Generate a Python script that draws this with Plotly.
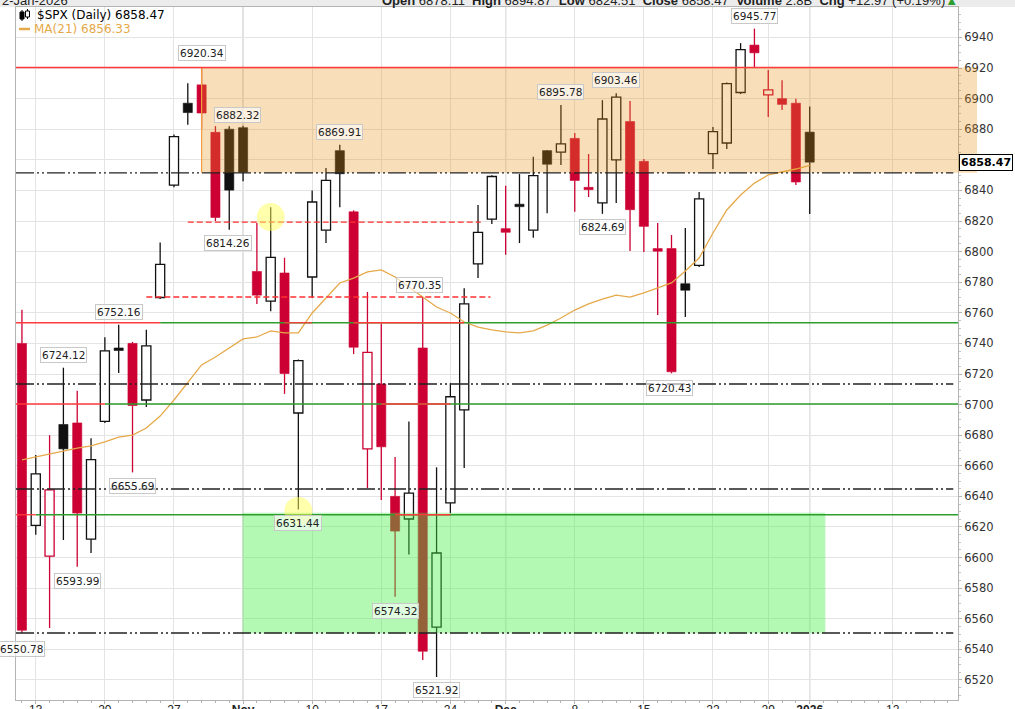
import plotly.graph_objects as go

# ---------------- data ----------------
dates = ["2025-10-10", "2025-10-13", "2025-10-14", "2025-10-15", "2025-10-16", "2025-10-17",
         "2025-10-20", "2025-10-21", "2025-10-22", "2025-10-23", "2025-10-24",
         "2025-10-27", "2025-10-28", "2025-10-29", "2025-10-30", "2025-10-31",
         "2025-11-03", "2025-11-04", "2025-11-05", "2025-11-06", "2025-11-07",
         "2025-11-10", "2025-11-11", "2025-11-12", "2025-11-13", "2025-11-14",
         "2025-11-17", "2025-11-18", "2025-11-19", "2025-11-20", "2025-11-21",
         "2025-11-24", "2025-11-25", "2025-11-26", "2025-11-28",
         "2025-12-01", "2025-12-02", "2025-12-03", "2025-12-04", "2025-12-05",
         "2025-12-08", "2025-12-09", "2025-12-10", "2025-12-11", "2025-12-12",
         "2025-12-15", "2025-12-16", "2025-12-17", "2025-12-18", "2025-12-19",
         "2025-12-22", "2025-12-23", "2025-12-24", "2025-12-26",
         "2025-12-29", "2025-12-30", "2025-12-31", "2026-01-02"]

opens = [6740, 6621, 6601, 6687, 6688, 6612,
         6689, 6737, 6740, 6703, 6770,
         6843.5, 6897, 6909, 6878, 6880,
         6881, 6787, 6767.7, 6786, 6694.5,
         6783.4, 6814, 6866, 6826, 6671,
         6713.5, 6640, 6625.2, 6737, 6554.6,
         6635.7, 6696.5, 6792, 6821.3,
         6815, 6831, 6814, 6866, 6865,
         6874, 6842, 6831.8, 6860, 6885,
         6859, 6802, 6802, 6779, 6791,
         6864, 6871, 6904, 6935,
         6902.5, 6900, 6897, 6878.11]

highs = [6762, 6667, 6680, 6724.12, 6709, 6678,
         6744, 6752.16, 6741, 6749, 6806,
         6876.5, 6910, 6920.34, 6882, 6882,
         6882.32, 6818.7, 6829, 6796, 6729.5,
         6840, 6854.6, 6869.91, 6827, 6773.6,
         6753, 6665.7, 6689, 6770.35, 6659,
         6714, 6776, 6830.5, 6850,
         6843, 6850.7, 6862, 6866.5, 6895.78,
         6877.5, 6863.8, 6899, 6903.46, 6898.4,
         6860.5, 6818.7, 6810.8, 6815.4, 6839,
         6881.4, 6910.5, 6936.3, 6945.77,
         6918.7, 6912, 6900, 6894.87]

lows = [6550.78, 6615, 6554, 6611.5, 6593.99, 6603,
        6688, 6720.6, 6655.69, 6698.4, 6769,
        6842, 6883, 6880, 6820, 6814.26,
        6846, 6765.8, 6761, 6707, 6631.44,
        6769.7, 6805.6, 6829, 6733, 6645.5,
        6637.6, 6574.32, 6602, 6533, 6521.92,
        6629, 6658.6, 6782.7, 6818,
        6798, 6805.6, 6809, 6825, 6856.6,
        6826, 6835.7, 6824.69, 6831.8, 6800.4,
        6799.7, 6758.6, 6720.43, 6757.3, 6790,
        6854, 6867, 6903, 6920.6,
        6888, 6892.5, 6843.5, 6824.51]

closes = [6552.51, 6654.72, 6644.31, 6671.06, 6629.07, 6664.01,
          6735.13, 6735.35, 6699.40, 6738.44, 6791.69,
          6875.16, 6890.89, 6890.59, 6822.34, 6840.20,
          6851.97, 6771.55, 6796.29, 6720.32, 6728.80,
          6832.43, 6846.61, 6850.92, 6737.49, 6734.11,
          6672.41, 6617.32, 6642.16, 6538.76, 6602.99,
          6705.12, 6765.88, 6812.61, 6849.09,
          6812.63, 6829.37, 6849.72, 6857.12, 6870.40,
          6846.51, 6840.51, 6886.68, 6901.00, 6827.41,
          6816.51, 6800.26, 6721.43, 6774.76, 6834.50,
          6878.49, 6909.79, 6932.05, 6929.94,
          6905.74, 6896.24, 6845.50, 6858.47]

prior_close = 6735.11  # close before the first bar

ma21 = [6663.8, 6665.8, 6667.7, 6669.7, 6671.6, 6673.0,
        6675.6, 6678.8, 6680.1, 6684.7, 6692.5,
        6703.0, 6714.1, 6725.9, 6731.1, 6737.0,
        6742.9, 6744.2, 6748.2, 6746.9, 6746.9,
        6759.9, 6769.7, 6779.5, 6782.7, 6786.7,
        6788.0, 6783.4, 6776.9, 6770.3, 6763.8,
        6759.9, 6754.0, 6750.7, 6748.8,
        6747.5, 6746.9, 6748.2, 6752.0, 6756.6,
        6761.8, 6765.8, 6769.0, 6771.6, 6770.3,
        6773.0, 6776.2, 6779.5, 6787.3, 6795.8,
        6812.2, 6827.2, 6837.0, 6844.8,
        6850.1, 6852.0, 6854.0, 6856.33]

volume_text = "2.8B"
header_date = "2-Jan-2026"

x_tick_idx = [1, 6, 11, 16, 21, 26, 31, 35, 40, 45, 50, 54, 57, 63]
x_tick_text = ["13", "20", "27", "Nov", "10", "17", "24", "Dec", "8", "15", "22", "29", "2026", "12"]
month_labels = ["Nov", "Dec", "2026"]

# annotated highs/lows: (bar index, "h"/"l", xshift px, yshift px)
value_labels = [(13, "h", 0, 15), (16, "h", -6, 11), (23, "h", 0, 13), (15, "l", -1, -13),
                (7, "h", 0, 13), (3, "h", 0, 13), (8, "l", 0, -14), (4, "l", 0, -14),
                (20, "l", 0, -14), (27, "l", 0, -14), (0, "l", 0, -16), (30, "l", 0, -13),
                (29, "h", -3, 12), (39, "h", 0, 13), (43, "h", 0, 13), (42, "l", 0, -13),
                (47, "l", -2, -15), (53, "h", 0, 13)]

# annotation levels
zone_orange = (13, 6851.5, 6920.34)     # start bar, low, high
zone_green = (16, 58.1, 6550.78, 6629)  # start bar, end bar, low, high
dashdot_levels = [6851.5, 6713.5, 6644.8, 6550.7]
red_dash_lines = [(12, 33.2, 6819.3), (9, 33.9, 6770.3)]
full_red_level = 6920.34
# (level, list of red segments (x0,x1) , green start bar)
sr_lines = [(6753.5, [(-1, 10), (19, 21), (24, 32)], 10),
            (6700.4, [(-1, 6), (26, 31)], 6),
            (6628.0, [(-1, 1), (27, 31)], 1)]
highlight_circles = [(18, 6822.6), (20, 6630.5)]

X_RANGE = [-0.43, 67.73]
Y_RANGE = [6506.9, 6959.9]

RED = "#cc0033"
BLACK = "#111111"
MA_COL = "#e6a94a"

# ---------------- figure ----------------
fig = go.Figure()

prev = [prior_close] + closes[:-1]
groups = {}
for i, (o, h, l, c, p) in enumerate(zip(opens, highs, lows, closes, prev)):
    hollow = c > o
    red = c < p
    groups.setdefault((hollow, red), []).append(i)

for (hollow, red), idxs in groups.items():
    col = RED if red else BLACK
    wx, wy = [], []
    for i in idxs:
        top = max(opens[i], closes[i])
        bot = min(opens[i], closes[i])
        wx += [i, i, None, i, i, None]
        wy += [lows[i], bot, None, top, highs[i], None]
    fig.add_trace(go.Scatter(x=wx, y=wy, mode="lines", line=dict(color=col, width=1.3),
                             hoverinfo="skip", showlegend=False))
    fig.add_trace(go.Bar(
        x=idxs,
        base=[min(opens[i], closes[i]) for i in idxs],
        y=[abs(closes[i] - opens[i]) for i in idxs],
        width=0.66,
        marker=dict(color="white" if hollow else col,
                    line=dict(color=col, width=1.3 if hollow else 0.6)),
        hoverinfo="skip", showlegend=False))

fig.add_trace(go.Scatter(x=list(range(len(ma21))), y=ma21, mode="lines",
                         line=dict(color=MA_COL, width=1.3), hoverinfo="skip",
                         showlegend=False))

shapes = []
# legend white box
shapes.append(dict(type="rect", xref="paper", yref="paper", xsizemode="pixel", ysizemode="pixel",
                   xanchor=0, yanchor=1, x0=0, x1=156, y0=-32, y1=0,
                   fillcolor="white", line=dict(width=0), layer="between"))
# month gridlines (darker)
for t, lab in zip(x_tick_idx, x_tick_text):
    if lab in month_labels:
        shapes.append(dict(type="line", xref="x", yref="paper", x0=t, x1=t, y0=0, y1=1,
                           line=dict(color="#c4c4c4", width=1.2), layer="between"))

# zones
s, zl, zh = zone_orange
shapes.append(dict(type="rect", xref="x", yref="y", x0=s, x1=X_RANGE[1] + 1, y0=zl, y1=zh,
                   fillcolor="rgb(232,145,22)", opacity=0.3, line=dict(width=0), layer="above"))
shapes.append(dict(type="line", xref="x", yref="y", x0=s, x1=X_RANGE[1] + 1, y0=zh, y1=zh,
                   line=dict(color="#f0a040", width=1.2), layer="above"))
shapes.append(dict(type="line", xref="x", yref="y", x0=s, x1=s, y0=zl, y1=zh,
                   line=dict(color="#f0a040", width=1.2), layer="above"))
py0 = (zl - Y_RANGE[0]) / (Y_RANGE[1] - Y_RANGE[0])
py1 = (zh - Y_RANGE[0]) / (Y_RANGE[1] - Y_RANGE[0])
shapes.append(dict(type="rect", xref="paper", yref="paper", x0=1, x1=1.0202, y0=py0, y1=py1,
                   fillcolor="rgb(232,145,22)", opacity=0.3, line=dict(width=0), layer="above"))

g0, g1, gl, gh = zone_green
shapes.append(dict(type="rect", xref="x", yref="y", x0=g0, x1=g1, y0=gl, y1=gh,
                   fillcolor="rgb(67,242,67)", opacity=0.4,
                   line=dict(color="rgb(90,225,90)", width=1), layer="above"))

# dash-dot levels
for lv in dashdot_levels:
    shapes.append(dict(type="line", xref="paper", yref="y", x0=0, x1=0.995, y0=lv, y1=lv,
                       line=dict(color="#222222", width=1.4, dash="18px,3px,2px,3px,2px,3px"),
                       layer="above"))
# red dashed
for x0, x1, lv in red_dash_lines:
    shapes.append(dict(type="line", xref="x", yref="y", x0=x0, x1=x1, y0=lv, y1=lv,
                       line=dict(color="#ff3030", width=1.4, dash="6px,3px"), layer="above"))
# full red line
shapes.append(dict(type="line", xref="paper", yref="y", x0=0, x1=1, y0=full_red_level,
                   y1=full_red_level, line=dict(color="#ff3b3b", width=1.4), layer="above"))
# support / resistance lines
for lv, reds, gstart in sr_lines:
    shapes.append(dict(type="line", xref="x", yref="y", x0=gstart, x1=X_RANGE[1] + 1, y0=lv, y1=lv,
                       line=dict(color="#2e9e2e", width=1.3), layer="above"))
    for a, b in reds:
        shapes.append(dict(type="line", xref="x", yref="y", x0=a, x1=b, y0=lv, y1=lv,
                           line=dict(color="#ff3b3b", width=1.3), layer="above"))
# yellow highlight circles
for cx, cy in highlight_circles:
    shapes.append(dict(type="circle", xref="x", yref="y", xsizemode="pixel", ysizemode="pixel",
                       xanchor=cx, yanchor=cy, x0=-14, x1=14, y0=-14, y1=14,
                       fillcolor="rgba(255,255,90,0.5)", line=dict(width=0), layer="above"))

# header band
shapes.append(dict(type="rect", xref="paper", yref="paper", xsizemode="pixel", ysizemode="pixel",
                   xanchor=0, yanchor=1, x0=-16, x1=999, y0=0, y1=8,
                   fillcolor="#ececec", line=dict(width=0), layer="below"))

# legend icon + MA dash
shapes += [
    dict(type="line", xref="paper", yref="paper", xsizemode="pixel", ysizemode="pixel",
         xanchor=0, yanchor=1, x0=6, x1=6, y0=-3, y1=-14, line=dict(color="black", width=1)),
    dict(type="rect", xref="paper", yref="paper", xsizemode="pixel", ysizemode="pixel",
         xanchor=0, yanchor=1, x0=4, x1=8, y0=-5, y1=-12, fillcolor="black",
         line=dict(color="black", width=1)),
    dict(type="line", xref="paper", yref="paper", xsizemode="pixel", ysizemode="pixel",
         xanchor=0, yanchor=1, x0=11.5, x1=11.5, y0=-2, y1=-12, line=dict(color="black", width=1)),
    dict(type="rect", xref="paper", yref="paper", xsizemode="pixel", ysizemode="pixel",
         xanchor=0, yanchor=1, x0=9.5, x1=13.5, y0=-4, y1=-10, fillcolor="white",
         line=dict(color="black", width=1)),
    dict(type="line", xref="paper", yref="paper", xsizemode="pixel", ysizemode="pixel",
         xanchor=0, yanchor=1, x0=3, x1=14, y0=-22, y1=-22, line=dict(color=MA_COL, width=2.5)),
]

annotations = []
for idx, kind, xs, ys in value_labels:
    v = highs[idx] if kind == "h" else lows[idx]
    annotations.append(dict(x=idx, y=v, xref="x", yref="y", text=f"{v:.2f}", showarrow=False,
                            xshift=xs, yshift=ys,
                            font=dict(family="DejaVu Sans", size=10.5, color="#222222"),
                            bgcolor="rgba(255,255,255,0.6)", bordercolor="#c8c8c8",
                            borderwidth=1, borderpad=1))

annotations.append(dict(x=0, y=1, xref="paper", yref="paper", xanchor="left", yanchor="middle",
                        xshift=19, yshift=-8, showarrow=False,
                        text=f"$SPX (Daily) {closes[-1]:.2f}",
                        font=dict(family="DejaVu Sans", size=12, color="black")))
annotations.append(dict(x=0, y=1, xref="paper", yref="paper", xanchor="left", yanchor="middle",
                        xshift=16, yshift=-22, showarrow=False,
                        text=f"MA(21) {ma21[-1]:.2f}",
                        font=dict(family="DejaVu Sans", size=12, color=MA_COL)))
chg = closes[-1] - closes[-2]
pct = chg / closes[-2] * 100
annotations.append(dict(x=0, y=1, xref="paper", yref="paper", xanchor="left", yanchor="middle",
                        xshift=-16, yshift=7, showarrow=False, text=header_date,
                        font=dict(family="Liberation Sans", size=13, color="#222222")))
annotations.append(dict(x=1, y=1, xref="paper", yref="paper", xanchor="right", yanchor="middle",
                        xshift=2, yshift=7, showarrow=False,
                        text=(f"<b>Open</b> {opens[-1]:.2f}  <b>High</b> {highs[-1]:.2f}  "
                              f"<b>Low</b> {lows[-1]:.2f}  <b>Close</b> {closes[-1]:.2f}  "
                              f"<b>Volume</b> {volume_text}  <b>Chg</b> +{chg:.2f} (+{pct:.2f}%)"
                              f"<span style='color:#2e9e2e'>▲</span>"),
                        font=dict(family="Liberation Sans", size=13, color="#222222")))
annotations.append(dict(x=1, y=closes[-1], xref="paper", yref="y", xanchor="left",
                        yanchor="middle", xshift=1, showarrow=False,
                        text=f"<b>{closes[-1]:.2f}</b>",
                        font=dict(family="DejaVu Sans", size=11, color="black"),
                        bgcolor="white", bordercolor="black", borderwidth=1, borderpad=1))

tick_text_fmt = [f"<b>{t}</b>" if t in month_labels else t for t in x_tick_text]

fig.update_layout(
    width=1015, height=709,
    margin=dict(l=16, r=57, t=7, b=9, autoexpand=False),
    paper_bgcolor="white", plot_bgcolor="white",
    barmode="overlay", showlegend=False,
    shapes=shapes, annotations=annotations,
    xaxis=dict(range=X_RANGE, tickmode="array", tickvals=x_tick_idx, ticktext=tick_text_fmt,
               automargin=False, ticklabelstandoff=-4,
               showgrid=True, gridcolor="#e4e4e4", gridwidth=1, zeroline=False,
               showline=True, linecolor="#b4b4b4", mirror=True,
               ticks="outside", ticklen=3, tickcolor="#b4b4b4",
               tickfont=dict(family="Liberation Sans", size=12, color="#222222"),
               minor=dict(tickvals=list(range(0, 68)), ticks="outside", ticklen=2,
                          tickcolor="#b4b4b4", showgrid=False)),
    yaxis=dict(side="right", range=Y_RANGE, tick0=6520, dtick=20, automargin=False,
               showgrid=True, gridcolor="#e4e4e4", gridwidth=1, zeroline=False,
               showline=True, linecolor="#b4b4b4", mirror=True,
               ticks="outside", ticklen=3, tickcolor="#b4b4b4",
               tickfont=dict(family="DejaVu Sans", size=11.5, color="#333333"),
               minor=dict(dtick=5, ticks="outside", ticklen=2, tickcolor="#c4c4c4",
                          showgrid=False)),
)

fig.write_html("out.html", config={"displayModeBar": False},
               post_script="document.body.style.margin='0px';document.body.style.overflow='hidden';")
